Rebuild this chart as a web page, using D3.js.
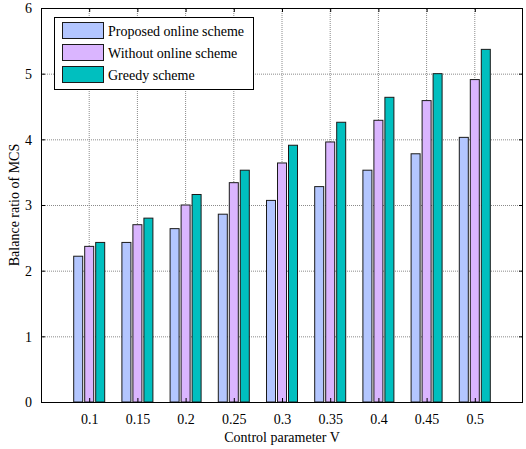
<!DOCTYPE html>
<html>
<head>
<meta charset="utf-8">
<script src="https://cdn.jsdelivr.net/npm/d3@7"></script>
<style>
  html, body { margin: 0; padding: 0; background: #fff; }
  svg text { font-family: "Liberation Serif", "Times New Roman", serif; fill: #000; }
</style>
</head>
<body>
<svg id="chart" width="526" height="449"></svg>
<script>
// Control parameter V values shown on the x axis
const categories = ["0.1", "0.15", "0.2", "0.25", "0.3", "0.35", "0.4", "0.45", "0.5"];
const seriesNames = ["Proposed online scheme", "Without online scheme", "Greedy scheme"];
const proposed = [2.22, 2.43, 2.64, 2.86, 3.07, 3.28, 3.53, 3.78, 4.03];
const without  = [2.37, 2.70, 3.00, 3.34, 3.64, 3.96, 4.29, 4.59, 4.91];
const greedy   = [2.43, 2.80, 3.16, 3.53, 3.91, 4.26, 4.64, 5.00, 5.37];
const yTicks = [0, 1, 2, 3, 4, 5, 6];
const colors = ["#b3c6ff", "#dab5ff", "#00bfbf"];

const series = [proposed, without, greedy];

const svg = d3.select("#chart");
const margin = { left: 41, right: 3, top: 8, bottom: 47 };
const W = 526, H = 449;
const x0 = margin.left, x1 = W - margin.right;
const y0 = H - margin.bottom, y1 = margin.top;

// Categories sit at integer positions 1..9 on a 0..10 axis
const x = d3.scaleLinear().domain([0, categories.length + 1]).range([x0, x1]);
const y = d3.scaleLinear().domain([0, 6]).range([y0, y1]);

const g = svg.append("g");

// Grid
g.append("g").selectAll("line.vg").data(categories).join("line")
  .attr("x1", (d, i) => x(i + 1)).attr("x2", (d, i) => x(i + 1))
  .attr("y1", y0).attr("y2", y1)
  .attr("stroke", "#8a8a8a").attr("stroke-width", 1).attr("stroke-dasharray", "1,1");
g.append("g").selectAll("line.hg").data(yTicks.slice(1, -1)).join("line")
  .attr("x1", x0).attr("x2", x1)
  .attr("y1", d => y(d) + 0.5).attr("y2", d => y(d) + 0.5)
  .attr("stroke", "#8a8a8a").attr("stroke-width", 1).attr("stroke-dasharray", "1,1");

// Bars
const barW = 9, gap = 2;
series.forEach((vals, s) => {
  g.append("g").selectAll("rect").data(vals).join("rect")
    .attr("x", (d, i) => x(i + 1) + (s - 1) * (barW + gap) - barW / 2)
    .attr("width", barW)
    .attr("y", d => y(d))
    .attr("height", d => y0 - y(d))
    .attr("fill", colors[s])
    .attr("stroke", "#1a1a1a").attr("stroke-width", 1);
});

// Axes box with inward ticks on all sides
const bottomAxis = d3.axisBottom(x).tickValues(d3.range(1, categories.length + 1))
  .tickFormat(d => categories[d - 1]).tickSizeInner(-4).tickSizeOuter(0).tickPadding(12);
const leftAxis = d3.axisLeft(y).tickValues(yTicks).tickFormat(d3.format("d"))
  .tickSizeInner(-4).tickSizeOuter(0).tickPadding(9);

const gx = g.append("g").attr("transform", `translate(0,${y0})`).call(bottomAxis);
const gy = g.append("g").attr("transform", `translate(${x0},0)`).call(leftAxis);
g.append("g").attr("transform", `translate(0,${y1})`)
  .call(d3.axisTop(x).tickValues(d3.range(1, categories.length + 1)).tickFormat("").tickSizeInner(-4).tickSizeOuter(0));
g.append("g").attr("transform", `translate(${x1},0)`)
  .call(d3.axisRight(y).tickValues(yTicks).tickFormat("").tickSizeInner(-4).tickSizeOuter(0));

g.selectAll(".domain").remove();
g.selectAll(".tick line").attr("stroke", "#000");
gx.selectAll("text").attr("font-size", 14);
gy.selectAll("text").attr("font-size", 14).attr("dy", "0.35em");

g.append("rect").attr("x", x0 + 0.5).attr("y", y1 + 0.5)
  .attr("width", x1 - x0 - 1).attr("height", y0 - y1)
  .attr("fill", "none").attr("stroke", "#000").attr("stroke-width", 1);

// Axis titles
svg.append("text").attr("x", (x0 + x1) / 2).attr("y", 442)
  .attr("text-anchor", "middle").attr("font-size", 14).text("Control parameter V");
svg.append("text").attr("transform", `translate(19,${(y0 + y1) / 2}) rotate(-90)`)
  .attr("text-anchor", "middle").attr("font-size", 14).text("Balance ratio of MCS");

// Legend
const lg = svg.append("g").attr("transform", "translate(54,17)");
lg.append("rect").attr("x", 0.5).attr("y", 0.5).attr("width", 199).attr("height", 72)
  .attr("fill", "#fff").attr("stroke", "#000").attr("stroke-width", 1);
seriesNames.forEach((name, i) => {
  lg.append("rect").attr("x", 8.5).attr("y", 5.5 + i * 22).attr("width", 41).attr("height", 16)
    .attr("fill", colors[i]).attr("stroke", "#1a1a1a").attr("stroke-width", 1);
  lg.append("text").attr("x", 54).attr("y", 19 + i * 22).attr("font-size", 14).text(name);
});
</script>
</body>
</html>
